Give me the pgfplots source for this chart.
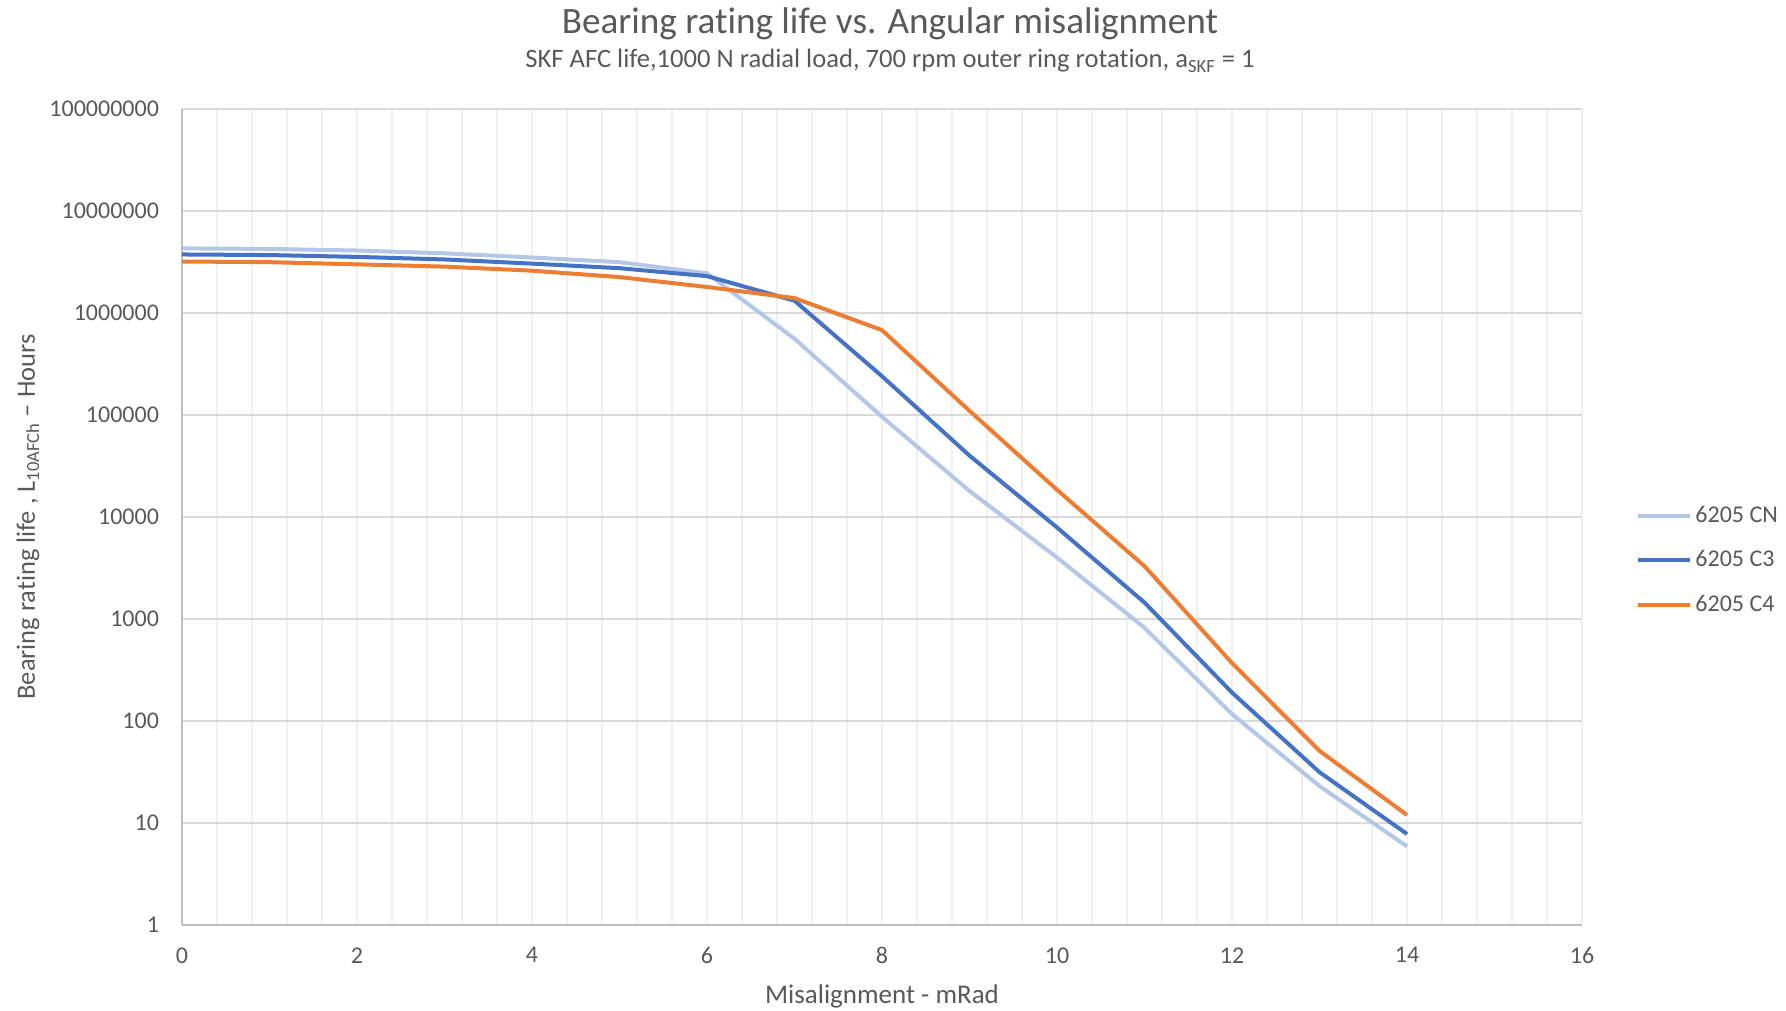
\documentclass[border=0pt]{standalone}
\usepackage{fontspec}
\setmainfont{Carlito}[Ligatures=NoCommon]
\usepackage{pgfplots}
\pgfplotsset{compat=1.18}

\definecolor{txtgray}{HTML}{595959}
\definecolor{majgrid}{HTML}{D9D9D9}
\definecolor{mingrid}{HTML}{F0F0F0}
\definecolor{axgray}{HTML}{BFBFBF}
\definecolor{cn}{HTML}{B4C7E7}
\definecolor{cthree}{HTML}{4472C4}
\definecolor{cfour}{HTML}{ED7D31}

\begin{document}
\begin{tikzpicture}
\useasboundingbox (-91bp,-43bp) rectangle (802bp,462.5bp);
\begin{axis}[
  at={(0,0)}, anchor=south west,
  scale only axis, width=700bp, height=408bp,
  xmin=0, xmax=16, ymin=1, ymax=1e8,
  ymode=log, log basis y=10,
  xtick={0,2,...,16},
  minor x tick num=4,
  ytick={1,10,100,1000,10000,100000,1000000,10000000,100000000},
  yticklabels={1,10,100,1000,10000,100000,1000000,10000000,100000000},
  yminorticks=false,
  xmajorgrids, xminorgrids, ymajorgrids,
  major x grid style={mingrid, line width=0.9bp},
  minor x grid style={mingrid, line width=0.9bp},
  major y grid style={majgrid, line width=0.9bp},
  axis lines*=left,
  axis line style={axgray, line width=0.9bp},
  major tick length=0pt, minor tick length=0pt,
  /pgf/number format/assume math mode=true,
  tick label style={font=\fontsize{12bp}{14bp}\selectfont, text=txtgray},
  xticklabel style={yshift=-7.7bp},
  yticklabel style={xshift=-8bp},
  xlabel={Misalignment - mRad},
  ylabel={Bearing rating life , L\textsubscript{10AFCh} – Hours},
  label style={text=txtgray},
  xlabel style={font=\fontsize{13.5bp}{15bp}\selectfont, at={(axis description cs:0.5,0)}, anchor=center, yshift=-35.5bp},
  ylabel style={font=\fontsize{13.2bp}{15bp}\selectfont, at={(axis description cs:-0.11,0.5)}, anchor=center},
  legend style={at={(axis description cs:1.0386,0.447)}, anchor=west, draw=none,
    fill=none, font=\fontsize{12bp}{14bp}\selectfont, text=txtgray,
    row sep=9.6bp, inner sep=0pt, nodes={inner sep=1.5bp}},
  legend cell align=left,
  legend image code/.code={\draw[#1] (0bp,0bp) -- (26bp,0bp);},
  every axis plot/.append style={line width=2bp, line join=round},
]
\addplot[cn] coordinates {(0,4.3e6) (1,4.25e6) (2,4.1e6) (3,3.85e6) (4,3.5e6) (5,3.15e6) (6,2.45e6) (7,5.6e5) (8,9.6e4) (9,1.8e4) (10,4.0e3) (11,820) (12,117) (13,23) (14,5.9)};
\addlegendentry{6205 CN}
\addplot[cthree] coordinates {(0,3.75e6) (1,3.7e6) (2,3.55e6) (3,3.35e6) (4,3.05e6) (5,2.75e6) (6,2.3e6) (7,1.32e6) (8,2.4e5) (9,4.0e4) (10,7.9e3) (11,1450) (12,190) (13,31.5) (14,7.8)};
\addlegendentry{6205 C3}
\addplot[cfour] coordinates {(0,3.2e6) (1,3.15e6) (2,3.0e6) (3,2.85e6) (4,2.6e6) (5,2.25e6) (6,1.8e6) (7,1.4e6) (8,6.8e5) (9,1.1e5) (10,1.85e4) (11,3.3e3) (12,370) (13,51) (14,12)};
\addlegendentry{6205 C4}
\end{axis}
\node[font=\fontsize{18.6bp}{21bp}\selectfont, text=txtgray] at (354bp,450.5bp) {Bearing rating life vs. Angular misalignment};
\node[font=\fontsize{13.3bp}{15bp}\selectfont, text=txtgray] at (354bp,432bp) {SKF AFC life,1000 N radial load, 700 rpm outer ring rotation, a\textsubscript{SKF} = 1};
\end{tikzpicture}
\end{document}
